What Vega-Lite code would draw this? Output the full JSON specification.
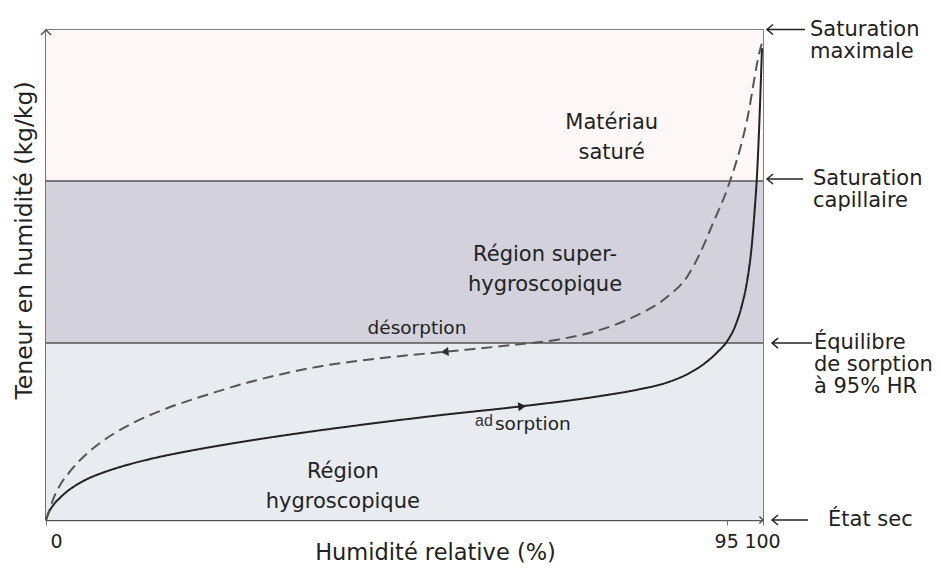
{
  "$schema": "https://vega.github.io/schema/vega-lite/v6.json",
  "width": 717,
  "height": 490,
  "autosize": {"type": "none"},
  "padding": {"left": 46, "top": 30, "right": 178, "bottom": 49},
  "background": "white",
  "config": {
    "view": {"stroke": "#555", "strokeWidth": 1.5},
    "font": "DejaVu Sans",
    "axis": {"grid": false}
  },
  "datasets": {
    "bands": [
      {"band": "Matériau saturé", "x": 0, "x2": 100, "y": 69.2, "y2": 100},
      {"band": "Région super-hygroscopique", "x": 0, "x2": 100, "y": 36.1, "y2": 69.2},
      {"band": "Région hygroscopique", "x": 0, "x2": 100, "y": 0, "y2": 36.1}
    ],
    "bounds": [{"y": 36.1}, {"y": 69.2}],
    "curves": [
      {"s": "adsorption", "x": 0, "y": 0},
      {"s": "adsorption", "x": 0.4, "y": 1.6},
      {"s": "adsorption", "x": 1.0, "y": 3.0},
      {"s": "adsorption", "x": 2.0, "y": 4.6},
      {"s": "adsorption", "x": 3.0, "y": 5.9},
      {"s": "adsorption", "x": 4.3, "y": 7.2},
      {"s": "adsorption", "x": 6.1, "y": 8.6},
      {"s": "adsorption", "x": 8.2, "y": 9.8},
      {"s": "adsorption", "x": 10.3, "y": 10.8},
      {"s": "adsorption", "x": 13.0, "y": 11.9},
      {"s": "adsorption", "x": 15.9, "y": 12.9},
      {"s": "adsorption", "x": 21.5, "y": 14.5},
      {"s": "adsorption", "x": 28.4, "y": 16.2},
      {"s": "adsorption", "x": 38.2, "y": 18.3},
      {"s": "adsorption", "x": 46.6, "y": 19.9},
      {"s": "adsorption", "x": 55.0, "y": 21.4},
      {"s": "adsorption", "x": 65.7, "y": 23.1},
      {"s": "adsorption", "x": 77.3, "y": 25.3},
      {"s": "adsorption", "x": 82.5, "y": 26.6},
      {"s": "adsorption", "x": 86.5, "y": 28.0},
      {"s": "adsorption", "x": 89.5, "y": 29.8},
      {"s": "adsorption", "x": 91.8, "y": 31.9},
      {"s": "adsorption", "x": 93.6, "y": 34.2},
      {"s": "adsorption", "x": 95.0, "y": 36.5},
      {"s": "adsorption", "x": 96.1, "y": 39.5},
      {"s": "adsorption", "x": 97.0, "y": 43.5},
      {"s": "adsorption", "x": 97.8, "y": 48.9},
      {"s": "adsorption", "x": 98.4, "y": 55.5},
      {"s": "adsorption", "x": 98.85, "y": 63.5},
      {"s": "adsorption", "x": 99.15, "y": 70.0},
      {"s": "adsorption", "x": 99.45, "y": 79.6},
      {"s": "adsorption", "x": 99.7, "y": 89.5},
      {"s": "adsorption", "x": 99.86, "y": 96.3},
      {"s": "désorption", "x": 0, "y": 0},
      {"s": "désorption", "x": 0.56, "y": 2.45},
      {"s": "désorption", "x": 1.12, "y": 4.69},
      {"s": "désorption", "x": 1.95, "y": 7.1},
      {"s": "désorption", "x": 3.35, "y": 9.9},
      {"s": "désorption", "x": 4.74, "y": 12.2},
      {"s": "désorption", "x": 7.53, "y": 15.7},
      {"s": "désorption", "x": 12.13, "y": 19.8},
      {"s": "désorption", "x": 16.88, "y": 22.8},
      {"s": "désorption", "x": 21.48, "y": 25.1},
      {"s": "désorption", "x": 28.03, "y": 28.0},
      {"s": "désorption", "x": 37.24, "y": 31.1},
      {"s": "désorption", "x": 46.58, "y": 33.0},
      {"s": "désorption", "x": 55.37, "y": 34.3},
      {"s": "désorption", "x": 64.3, "y": 35.6},
      {"s": "désorption", "x": 71.69, "y": 36.9},
      {"s": "désorption", "x": 77.27, "y": 38.8},
      {"s": "désorption", "x": 81.87, "y": 41.4},
      {"s": "désorption", "x": 86.61, "y": 45.5},
      {"s": "désorption", "x": 89.4, "y": 49.6},
      {"s": "désorption", "x": 91.21, "y": 54.4},
      {"s": "désorption", "x": 93.03, "y": 60.6},
      {"s": "désorption", "x": 94.98, "y": 67.4},
      {"s": "désorption", "x": 97.77, "y": 81.6},
      {"s": "désorption", "x": 99.58, "y": 95.9},
      {"s": "désorption", "x": 99.86, "y": 97.35}
    ],
    "heads": [
      {"s": "adsorption", "x": 66.4, "y": 23.2},
      {"s": "désorption", "x": 55.6, "y": 34.3}
    ],
    "regions": [
      {"x": 78.9, "y": 81.0, "t": "Matériau\nsaturé"},
      {"x": 69.6, "y": 54.0, "t": "Région super-\nhygroscopique"},
      {"x": 41.4, "y": 9.8, "t": "Région\nhygroscopique"}
    ],
    "states": [
      {"x": 106.56, "y": 100.1, "t": "Saturation\nmaximale", "ax": 100.56, "ax2": 105.86},
      {"x": 106.97, "y": 69.6, "t": "Saturation\ncapillaire", "ax": 100.56, "ax2": 105.58},
      {"x": 107.1, "y": 36.1, "t": "Équilibre\nde sorption\nà 95% HR", "ax": 101.26, "ax2": 106.83},
      {"x": 109.07, "y": 0, "t": "État sec", "ax": 101.26, "ax2": 106.28}
    ]
  },
  "layer": [
    {
      "data": {"name": "bands"},
      "mark": {"type": "rect"},
      "encoding": {
        "x": {
          "field": "x", "type": "quantitative",
          "scale": {"domain": [0, 100], "nice": false, "zero": false},
          "axis": {
            "values": [0, 95, 100],
            "title": "Humidité relative (%)",
            "titleFontSize": 22.5, "titleFontWeight": "normal", "titleColor": "#222",
            "titleX": 389, "titleY": 32, "titleBaseline": "middle",
            "labelFontSize": 19, "labelColor": "#222", "labelPadding": 7,
            "labelAlign": {"condition": {"test": "datum.value == 0", "value": "left"}, "value": "center"},
            "labelOffset": {"condition": {"test": "datum.value == 0", "value": 4}, "value": -1},
            "labelFlush": false, "labelOverlap": false,
            "domainColor": "#555", "domainWidth": 1.5,
            "tickColor": "#777", "tickSize": 5, "tickWidth": 1
          }
        },
        "x2": {"field": "x2"},
        "y": {
          "field": "y", "type": "quantitative",
          "scale": {"domain": [0, 100], "nice": false, "zero": false},
          "axis": {
            "labels": false, "ticks": false,
            "title": "Teneur en humidité (kg/kg)",
            "titleFontSize": 23.5, "titleFontWeight": "normal", "titleColor": "#222",
            "titlePadding": 10, "titleY": 210,
            "domainColor": "#555", "domainWidth": 1.5
          }
        },
        "y2": {"field": "y2"},
        "color": {
          "field": "band", "type": "nominal", "legend": null,
          "scale": {
            "domain": ["Matériau saturé", "Région super-hygroscopique", "Région hygroscopique"],
            "range": ["#fdf8f7", "#d3d2dc", "#e8ebf0"]
          }
        }
      }
    },
    {
      "data": {"name": "bounds"},
      "mark": {"type": "rule", "color": "#555", "strokeWidth": 1.5},
      "encoding": {
        "y": {"field": "y", "type": "quantitative"}
      }
    },
    {
      "data": {"name": "curves"},
      "mark": {"type": "line", "interpolate": "monotone", "strokeWidth": 2},
      "encoding": {
        "x": {"field": "x", "type": "quantitative"},
        "y": {"field": "y", "type": "quantitative"},
        "stroke": {
          "field": "s", "type": "nominal", "legend": null,
          "scale": {"domain": ["adsorption", "désorption"], "range": ["#222222", "#555555"]}
        },
        "strokeDash": {
          "field": "s", "type": "nominal", "legend": null,
          "scale": {"domain": ["adsorption", "désorption"], "range": [[1, 0], [11, 6]]}
        }
      }
    },
    {
      "data": {"name": "heads"},
      "mark": {"type": "point", "filled": true, "size": 80, "angle": -6, "opacity": 1},
      "encoding": {
        "x": {"field": "x", "type": "quantitative"},
        "y": {"field": "y", "type": "quantitative"},
        "shape": {
          "field": "s", "type": "nominal", "legend": null,
          "scale": {"domain": ["adsorption", "désorption"], "range": ["triangle-right", "triangle-left"]}
        },
        "fill": {
          "field": "s", "type": "nominal", "legend": null,
          "scale": {"domain": ["adsorption", "désorption"], "range": ["#222222", "#333333"]}
        }
      }
    },
    {
      "data": {"name": "regions"},
      "mark": {"type": "text", "align": "center", "baseline": "middle", "fontSize": 21, "lineHeight": 30, "lineBreak": "\n", "color": "#222"},
      "encoding": {
        "x": {"field": "x", "type": "quantitative"},
        "y": {"field": "y", "type": "quantitative"},
        "text": {"field": "t"}
      }
    },
    {
      "data": {"values": [{"x": 51.74, "y": 39.18, "t": "désorption"}]},
      "mark": {"type": "text", "align": "center", "baseline": "middle", "fontSize": 18.5, "color": "#222"},
      "encoding": {
        "x": {"field": "x", "type": "quantitative"},
        "y": {"field": "y", "type": "quantitative"},
        "text": {"field": "t"}
      }
    },
    {
      "data": {"values": [{"x": 62.62, "y": 19.5, "t": "sorption"}]},
      "mark": {"type": "text", "align": "left", "baseline": "middle", "fontSize": 18.5, "color": "#222"},
      "encoding": {
        "x": {"field": "x", "type": "quantitative"},
        "y": {"field": "y", "type": "quantitative"},
        "text": {"field": "t"}
      }
    },
    {
      "data": {"values": [{"x": 59.83, "y": 20.3, "t": "ad"}]},
      "mark": {"type": "text", "align": "left", "baseline": "middle", "fontSize": 16, "font": "Liberation Sans", "color": "#333"},
      "encoding": {
        "x": {"field": "x", "type": "quantitative"},
        "y": {"field": "y", "type": "quantitative"},
        "text": {"field": "t"}
      }
    },
    {
      "data": {"name": "states"},
      "mark": {"type": "rule", "color": "#222", "strokeWidth": 1.5},
      "encoding": {
        "x": {"field": "ax", "type": "quantitative"},
        "x2": {"field": "ax2"},
        "y": {"field": "y", "type": "quantitative"}
      }
    },
    {
      "data": {"name": "states"},
      "mark": {"type": "point", "shape": "M 1.2 -1 L 0 0 L 1.2 1", "size": 100, "filled": false, "stroke": "#222", "strokeWidth": 1.5, "opacity": 1},
      "encoding": {
        "x": {"field": "ax", "type": "quantitative"},
        "y": {"field": "y", "type": "quantitative"}
      }
    },
    {
      "data": {"name": "states"},
      "mark": {"type": "text", "align": "left", "baseline": "middle", "fontSize": 21, "lineHeight": 22, "lineBreak": "\n", "color": "#222"},
      "encoding": {
        "x": {"field": "x", "type": "quantitative"},
        "y": {"field": "y", "type": "quantitative"},
        "text": {"field": "t"}
      }
    },
    {
      "data": {"values": [{"x": 0, "y": 100}]},
      "mark": {"type": "point", "shape": "M -1 1 L 0 0 L 1 1", "size": 100, "filled": false, "stroke": "#555", "strokeWidth": 1.5, "opacity": 1},
      "encoding": {
        "x": {"field": "x", "type": "quantitative"},
        "y": {"field": "y", "type": "quantitative"}
      }
    },
    {
      "data": {"values": [{"x": 100, "y": 0}]},
      "mark": {"type": "point", "shape": "M -1 -1 L 0 0 L -1 1", "size": 50, "filled": false, "stroke": "#555", "strokeWidth": 1.5, "opacity": 1},
      "encoding": {
        "x": {"field": "x", "type": "quantitative"},
        "y": {"field": "y", "type": "quantitative"}
      }
    }
  ]
}
